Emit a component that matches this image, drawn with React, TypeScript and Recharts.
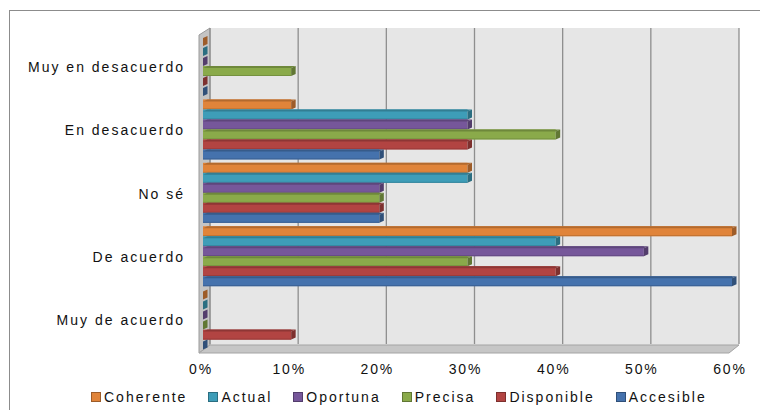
import React from "react";
import {
  Bar,
  BarChart,
  CartesianGrid,
  Legend,
  ReferenceArea,
  XAxis,
  YAxis,
} from "recharts";

// Datos (porcentaje de respuestas por categoría)
const CATEGORIES = [
  "Muy en desacuerdo",
  "En desacuerdo",
  "No sé",
  "De acuerdo",
  "Muy de acuerdo",
];
const COHERENTE = [0, 10, 30, 60, 0];
const ACTUAL = [0, 30, 30, 40, 0];
const OPORTUNA = [0, 30, 20, 50, 0];
const PRECISA = [10, 40, 20, 30, 0];
const DISPONIBLE = [0, 30, 20, 40, 10];
const ACCESIBLE = [0, 20, 20, 60, 0];
const X_TICKS = [0, 10, 20, 30, 40, 50, 60];

const SERIES = [
  { key: "Coherente", values: COHERENTE, color: "#e0843a" },
  { key: "Actual", values: ACTUAL, color: "#3e9db8" },
  { key: "Oportuna", values: OPORTUNA, color: "#76579a" },
  { key: "Precisa", values: PRECISA, color: "#8aaa4a" },
  { key: "Disponible", values: DISPONIBLE, color: "#b24442" },
  { key: "Accesible", values: ACCESIBLE, color: "#4572ad" },
];

const data = CATEGORIES.map((name, i) => {
  const row: Record<string, string | number> = { name };
  SERIES.forEach((s) => {
    row[s.key] = s.values[i];
  });
  return row;
});

const FONT = '"Liberation Sans", Arial, sans-serif';
const TEXT = "#111111";
const WALL_DEPTH = 7;
const PLOT_TOP = 27;
const X_MAX = 60;

function shade(hex: string, f: number): string {
  const n = parseInt(hex.slice(1), 16);
  const ch = (v: number) => Math.max(0, Math.min(255, Math.round(v * f)));
  const r = ch((n >> 16) & 255);
  const g = ch((n >> 8) & 255);
  const b = ch(n & 255);
  return `rgb(${r},${g},${b})`;
}

// Paredes del gráfico 3D (fondo, pared izquierda y piso)
function Walls(props: any) {
  const { x, y, width, height } = props;
  const d = WALL_DEPTH;
  const b = y + height;
  return (
    <g>
      <rect x={x + d} y={y - d} width={width} height={height} fill="#e6e6e6" />
      <polygon
        points={`${x - 4},${y} ${x + d},${y - d} ${x + d},${b - d} ${x - 4},${b + 1}`}
        fill="#c4c4c4"
        stroke="#9a9a9a"
        strokeWidth={1}
      />
      <polygon
        points={`${x - 4},${b + 1} ${x + d},${b - d} ${x + width + d},${b - d} ${x + width - 3},${b + 1}`}
        fill="#c6c6c6"
        stroke="#a4a4a4"
        strokeWidth={1}
      />
    </g>
  );
}

// Barra con efecto 3D simple: cara frontal, superior y lateral
function Bar3D(props: any) {
  const { x, width, height, fill } = props;
  if (x == null || props.y == null) return null;
  const y = props.y - 2;
  const w = Math.max(0, width || 0);
  const d = 4.5;
  const r = 2;
  return (
    <g>
      <rect x={x} y={y} width={w} height={height} fill={fill} />
      <polygon
        points={`${x},${y + r} ${x + w},${y + r} ${x + w + d},${y} ${x + d},${y}`}
        fill={shade(fill, 0.8)}
      />
      <line
        x1={x}
        x2={x + w}
        y1={y + height - 0.5}
        y2={y + height - 0.5}
        stroke={shade(fill, 0.85)}
        strokeWidth={1}
      />
      <polygon
        points={`${x + w},${y + r} ${x + w + d},${y} ${x + w + d},${y + height - r} ${x + w},${y + height}`}
        fill={shade(fill, 0.7)}
      />
    </g>
  );
}

function CategoryTick(props: any) {
  const { x, y, payload } = props;
  return (
    <text
      x={x - 10}
      y={y}
      dy="0.36em"
      textAnchor="end"
      fontFamily={FONT}
      fontSize={14}
      letterSpacing={2}
      fill={TEXT}
    >
      {payload.value}
    </text>
  );
}

function PercentTick(props: any) {
  const { x, y, payload } = props;
  return (
    <text
      x={x - 2}
      y={y + 14}
      textAnchor="middle"
      fontFamily={FONT}
      fontSize={14}
      letterSpacing={1.8}
      fill={TEXT}
    >
      {`${payload.value}%`}
    </text>
  );
}

function LegendContent() {
  return (
    <div
      style={{
        display: "flex",
        alignItems: "center",
        height: 30,
        paddingTop: 4,
        paddingLeft: 83,
        boxSizing: "border-box",
        fontFamily: FONT,
        fontSize: 14,
        letterSpacing: 2,
        color: TEXT,
      }}
    >
      {SERIES.map((s) => (
        <span
          key={s.key}
          style={{ display: "flex", alignItems: "center", marginRight: 21 }}
        >
          <span
            style={{
              display: "inline-block",
              width: 8,
              height: 8,
              background: s.color,
              border: `1px solid ${shade(s.color, 0.7)}`,
              marginRight: 3,
            }}
          />
          {s.key}
        </span>
      ))}
    </div>
  );
}

// Líneas verticales de la pared del fondo, desplazadas por la profundidad
function backWallLines({ xAxis, offset }: any): number[] {
  const sc = xAxis && xAxis.scale;
  return X_TICKS.map((t) => {
    let px: number;
    if (typeof sc === "function") px = sc(t);
    else if (sc && typeof sc.map === "function") px = sc.map(t);
    else px = offset.left + (offset.width * t) / X_MAX;
    return px + WALL_DEPTH;
  });
}

export default function App() {
  return (
    <div
      style={{
        position: "relative",
        width: 760,
        height: 402,
        overflow: "hidden",
        background: "#ffffff",
      }}
    >
      <div
        style={{
          position: "absolute",
          left: 1,
          top: 2,
          width: 900,
          height: 600,
          border: "1.5px solid #8c8c8c",
        }}
      />
      <div style={{ position: "absolute", left: 0, top: 0 }}>
        <BarChart
          width={760}
          height={402}
          data={data}
          layout="vertical"
          margin={{ top: PLOT_TOP, right: 36, left: 0, bottom: 0 }}
          barCategoryGap={3}
          barGap={0}
        >
          <ReferenceArea
            x1={0}
            x2={X_MAX}
            ifOverflow="visible"
            shape={<Walls />}
            zIndex={-200}
          />
          <CartesianGrid
            horizontal={false}
            stroke="#8e8e8e"
            strokeWidth={1.3}
            y={PLOT_TOP - WALL_DEPTH}
            height={316}
            verticalCoordinatesGenerator={backWallLines}
          />
          <XAxis
            type="number"
            domain={[0, X_MAX]}
            ticks={X_TICKS}
            axisLine={false}
            tickLine={false}
            height={28}
            tick={<PercentTick />}
          />
          <YAxis
            type="category"
            dataKey="name"
            width={195}
            axisLine={false}
            tickLine={false}
            tick={<CategoryTick />}
          />
          <Legend
            verticalAlign="bottom"
            height={30}
            content={<LegendContent />}
          />
          {SERIES.map((s) => (
            <Bar
              key={s.key}
              dataKey={s.key}
              fill={s.color}
              shape={<Bar3D />}
              isAnimationActive={false}
            />
          ))}
        </BarChart>
      </div>
    </div>
  );
}
